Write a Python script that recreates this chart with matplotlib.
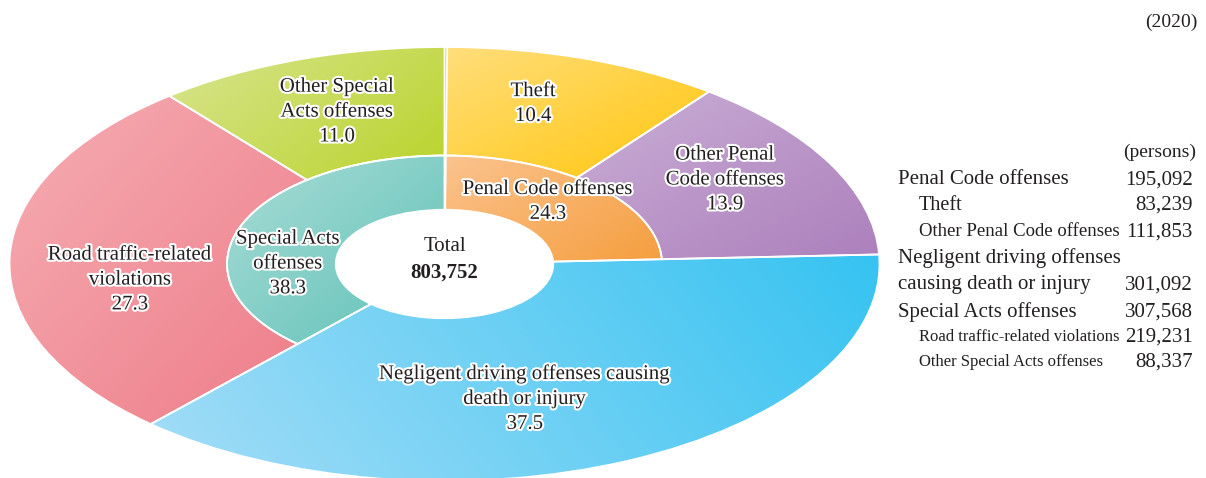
import numpy as np
import matplotlib.pyplot as plt
from matplotlib.patches import Wedge
from matplotlib.colors import LinearSegmentedColormap
import matplotlib.patheffects as pe

plt.rcParams['font.family'] = ['Liberation Serif', 'DejaVu Serif']

# ---- data (2020, persons / share %) ----
outer_names = ['Theft', 'Other Penal\nCode offenses',
               'Negligent driving offenses causing\ndeath or injury',
               'Road traffic-related\nviolations', 'Other Special\nActs offenses']
outer_pct = [10.4, 13.9, 37.5, 27.3, 11.0]

inner_names = ['Penal Code offenses', None, 'Special Acts\noffenses']
inner_pct = [24.3, 37.5, 38.3]

total = 803752
year_note = '(2020)'

table_names = ['Penal Code offenses', 'Theft', 'Other Penal Code offenses',
               'Negligent driving offenses', 'causing death or injury',
               'Special Acts offenses', 'Road traffic-related violations',
               'Other Special Acts offenses']
table_counts = ['195,092', '83,239', '111,853', '', '301,092',
                '307,568', '219,231', '88,337']

# ---- styles ----
outer_cols = [('#FFDE7C', '#FFC60A'), ('#CAAED6', '#AC80BC'), ('#A4DDF7', '#36C3F1'),
              ('#F6ADB3', '#EE7D89'), ('#D8E590', '#BAD32A')]
outer_dirs = [(1, -1), (1, -1), (1, 0.25), (1, -1), (1, -0.6)]
inner_cols = [('#FBC38E', '#F59E3E'), None, ('#A9DDD7', '#5FC1B7')]
inner_dirs = [(1, -0.8), None, (1, -1)]

outer_txt = [(0.204, 0.737), (0.645, 0.387), (0.185, -0.622), (-0.723, -0.074), (-0.247, 0.70)]
inner_txt = [(0.238, 0.286), None, (-0.36, 0.0)]

W, H = 1206, 478
fig = plt.figure(figsize=(W / 100, H / 100), dpi=100)

# ellipse: centre (444.5, 264) px, radii 435 x 217 px
cx, cy, rx, ry = 444.5, 264, 435, 217
lim = 1.02
ax = fig.add_axes([(cx - rx * lim) / W, (H - cy - ry * lim) / H,
                   2 * rx * lim / W, 2 * ry * lim / H])
ax.set_xlim(-lim, lim)
ax.set_ylim(-lim, lim)
ax.set_aspect('auto')
ax.axis('off')


def grad_wedge(r, t1, t2, width, cols, d):
    w = Wedge((0, 0), r, t1, t2, width=width, facecolor='none',
              edgecolor='white', linewidth=1.3, zorder=3)
    ax.add_patch(w)
    th = np.radians(np.linspace(t1, t2, 100))
    xs = np.concatenate([r * np.cos(th), (r - width) * np.cos(th)])
    ys = np.concatenate([r * np.sin(th), (r - width) * np.sin(th)])
    x0, x1, y0, y1 = xs.min(), xs.max(), ys.min(), ys.max()
    u, v = np.meshgrid(np.linspace(0, 1, 200), np.linspace(0, 1, 200))
    t = u * d[0] + v * d[1]
    t = (t - t.min()) / (t.max() - t.min())
    cmap = LinearSegmentedColormap.from_list('g', cols)
    im = ax.imshow(t, cmap=cmap, origin='lower', extent=(x0, x1, y0, y1),
                   aspect='auto', interpolation='bilinear', zorder=2)
    im.set_clip_path(w)


outline = [pe.withStroke(linewidth=3, foreground='white')]

# outer ring (negligent driving spans both rings)
start = 0.0
for i, p in enumerate(outer_pct):
    a0, a1 = start * 3.6, (start + p) * 3.6
    if i == 2:
        grad_wedge(1.0, 90 - a1, 90 - a0, 0.75, outer_cols[i], outer_dirs[i])
    else:
        grad_wedge(1.0, 90 - a1, 90 - a0, 0.5, outer_cols[i], outer_dirs[i])
    start += p
    tx, ty = outer_txt[i]
    ax.text(tx, ty, f'{outer_names[i]}\n{p:.1f}', ha='center', va='center',
            fontsize=15, color='#231F20', linespacing=1.42, path_effects=outline, zorder=5)

# inner ring
start = 0.0
for i, p in enumerate(inner_pct):
    a0, a1 = start * 3.6, (start + p) * 3.6
    start += p
    if inner_cols[i] is None:
        continue
    grad_wedge(0.5, 90 - a1, 90 - a0, 0.25, inner_cols[i], inner_dirs[i])
    tx, ty = inner_txt[i]
    ax.text(tx, ty, f'{inner_names[i]}\n{p:.1f}', ha='center', va='center',
            fontsize=15, color='#231F20', linespacing=1.42, path_effects=outline, zorder=5)

ax.set_xlim(-lim, lim)
ax.set_ylim(-lim, lim)

ax.text(0, 0.08, 'Total', ha='center', va='center', fontsize=15, color='#231F20', zorder=5)
ax.text(0, -0.04, f'{total:,}', ha='center', va='center', fontsize=15,
        fontweight='bold', color='#231F20', zorder=5)

# ---- right-hand table ----
def fx(px):
    return px / W


def fy(py):
    return 1 - py / H


fig.text(fx(1198), fy(22), year_note, ha='right', va='center', fontsize=14, color='#231F20')
fig.text(fx(1196), fy(152), '(persons)', ha='right', va='center', fontsize=14, color='#231F20')

rows_y = [180, 205, 232, 258, 285, 312, 337, 362]
indent = [0, 1, 1, 0, 0, 0, 1, 1]
sizes = [15, 14.5, 13.5, 15, 15, 15, 12, 12]
for name, cnt, yy, ind, fs in zip(table_names, table_counts, rows_y, indent, sizes):
    fig.text(fx(898 + 21 * ind), fy(yy), name, ha='left', va='center',
             fontsize=fs, color='#231F20')
    if cnt:
        fig.text(fx(1193), fy(yy), cnt, ha='right', va='center', fontsize=15, color='#231F20')

fig.savefig('out.png', dpi=100)
